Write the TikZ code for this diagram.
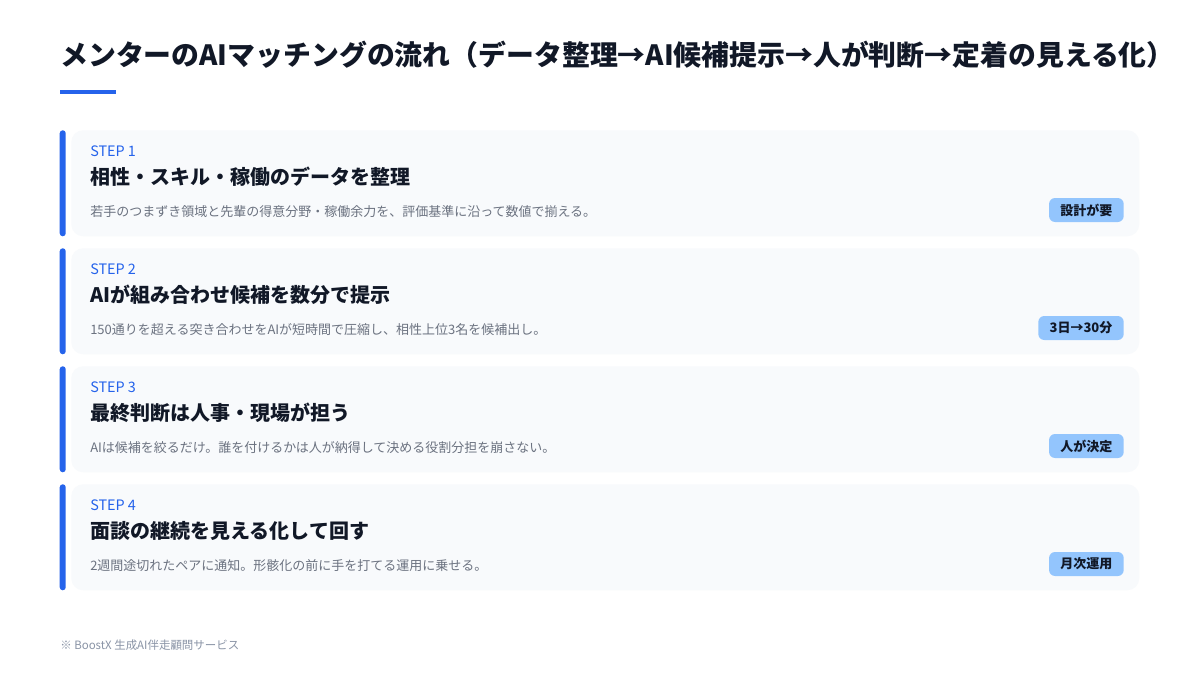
\documentclass[tikz,border=0pt]{standalone}
\usepackage{fontspec}
\setmainfont{Noto Sans CJK JP}
\usetikzlibrary{positioning}

\definecolor{accent}{HTML}{2563EB}
\definecolor{cardbg}{HTML}{F8FAFC}
\definecolor{ink}{HTML}{111827}
\definecolor{muted}{HTML}{6B7280}
\definecolor{faint}{HTML}{8A94A6}
\definecolor{badgebg}{HTML}{93C5FD}

\begin{document}
\begin{tikzpicture}
  [x=0.75pt,y=-0.75pt,
   card/.style={rectangle,fill=cardbg,rounded corners=9pt,anchor=north west,
     minimum width=801pt,minimum height=79.5pt,inner sep=0pt},
   bar/.style={rectangle,fill=accent,rounded corners=2.2pt,
     minimum width=4.5pt,minimum height=79.5pt,inner sep=0pt},
   steplabel/.style={anchor=west,inner sep=0pt,text=accent,font=\fontsize{10.8}{12}\selectfont},
   stephead/.style={anchor=west,inner sep=0pt,text=ink,font=\fontsize{15}{18}\selectfont\bfseries},
   stepdesc/.style={anchor=west,inner sep=0pt,text=muted,font=\fontsize{9.75}{12}\selectfont},
   badge/.style={anchor=east,fill=badgebg,rounded corners=4.5pt,text=ink,
     minimum height=18pt,inner xsep=8.5pt,inner ysep=0pt,
     font=\fontsize{9.75}{12}\selectfont\bfseries}]

  \useasboundingbox[fill=white] (0,0) rectangle (1200,675);

  % heading
  \node [anchor=west,inner sep=0pt,text=ink,font=\fontsize{20.9}{24}\selectfont\bfseries]
    (title) at (60,55) {メンターのAIマッチングの流れ（データ整理→AI候補提示→人が判断→定着の見える化）};
  \fill [accent] (60,90) rectangle (116,94);

  % step 1
  \node [card] (card1) at (71,130) {};
  \node [bar,left=3.75pt of card1] (bar1) {};
  \node [steplabel] (lab1)  at (90,151) {STEP 1};
  \node [stephead]  (head1) at (90,177) {相性・スキル・稼働のデータを整理};
  \node [stepdesc]  (desc1) at (90,212) {若手のつまずき領域と先輩の得意分野・稼働余力を、評価基準に沿って数値で揃える。};
  \node [badge]     (tag1)  at (1124,210) {設計が要};

  % step 2
  \node [card] (card2) at (71,248) {};
  \node [bar,left=3.75pt of card2] (bar2) {};
  \node [steplabel] (lab2)  at (90,269) {STEP 2};
  \node [stephead]  (head2) at (90,295) {AIが組み合わせ候補を数分で提示};
  \node [stepdesc]  (desc2) at (90,330) {150通りを超える突き合わせをAIが短時間で圧縮し、相性上位3名を候補出し。};
  \node [badge]     (tag2)  at (1124,328) {3日→30分};

  % step 3
  \node [card] (card3) at (71,366) {};
  \node [bar,left=3.75pt of card3] (bar3) {};
  \node [steplabel] (lab3)  at (90,387) {STEP 3};
  \node [stephead]  (head3) at (90,413) {最終判断は人事・現場が担う};
  \node [stepdesc]  (desc3) at (90,448) {AIは候補を絞るだけ。誰を付けるかは人が納得して決める役割分担を崩さない。};
  \node [badge]     (tag3)  at (1124,446) {人が決定};

  % step 4
  \node [card] (card4) at (71,484) {};
  \node [bar,left=3.75pt of card4] (bar4) {};
  \node [steplabel] (lab4)  at (90,505) {STEP 4};
  \node [stephead]  (head4) at (90,531) {面談の継続を見える化して回す};
  \node [stepdesc]  (desc4) at (90,566) {2週間途切れたペアに通知。形骸化の前に手を打てる運用に乗せる。};
  \node [badge]     (tag4)  at (1124,564) {月次運用};

  % footnote
  \node [anchor=west,inner sep=0pt,text=faint,font=\fontsize{8.6}{10}\selectfont]
    (note) at (60,645) {※ BoostX 生成AI伴走顧問サービス};

\end{tikzpicture}
\end{document}
